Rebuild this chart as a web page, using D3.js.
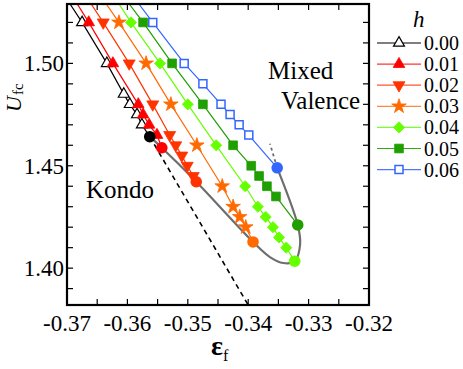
<!DOCTYPE html>
<html>
<head>
<meta charset="utf-8">
<script src="https://cdn.jsdelivr.net/npm/d3@7"></script>
<style>
  body { margin: 0; background: #fff; }
  svg { display: block; }
  text { font-family: "Liberation Serif", "Times New Roman", "DejaVu Serif", serif; }
</style>
</head>
<body>
<svg id="chart" width="463" height="369"></svg>
<script>
// h values of each series, in legend order
var hLabels = ["0.00", "0.01", "0.02", "0.03", "0.04", "0.05", "0.06"];

// marker points [eps_f, U_fc] for each series
var h000 = [[-0.3675, 1.52], [-0.3634, 1.50], [-0.3606, 1.485], [-0.3596, 1.48], [-0.3584, 1.475], [-0.3576, 1.47]];
var h001 = [[-0.3664, 1.52], [-0.3624, 1.50], [-0.3582, 1.48], [-0.3574, 1.475], [-0.3564, 1.47], [-0.3551, 1.465]];
var h002 = [[-0.3640, 1.52], [-0.3597, 1.50], [-0.3558, 1.48], [-0.3530, 1.465], [-0.3520, 1.46], [-0.3510, 1.455], [-0.3501, 1.45], [-0.3491, 1.445]];
var h003 = [[-0.3614, 1.52], [-0.3569, 1.50], [-0.3528, 1.48], [-0.3485, 1.46], [-0.3443, 1.44], [-0.3425, 1.43], [-0.3414, 1.425], [-0.3404, 1.42]];
var h004 = [[-0.3594, 1.52], [-0.3546, 1.50], [-0.3500, 1.48], [-0.3453, 1.46], [-0.3405, 1.44], [-0.3384, 1.43], [-0.3371, 1.425], [-0.3359, 1.42], [-0.3349, 1.415], [-0.3337, 1.41]];
var h005 = [[-0.3574, 1.52], [-0.3526, 1.50], [-0.3475, 1.48], [-0.3425, 1.46], [-0.3395, 1.45], [-0.3382, 1.445], [-0.3369, 1.44], [-0.3354, 1.435]];
var h006 = [[-0.3558, 1.52], [-0.3506, 1.50], [-0.3475, 1.49], [-0.3445, 1.48], [-0.3430, 1.475], [-0.3415, 1.47], [-0.3399, 1.465]];

// end point (critical point) of each series
var endPoints = [[-0.3563, 1.4642], [-0.3543, 1.4588], [-0.3486, 1.4422], [-0.3392, 1.4128], [-0.3323, 1.4034], [-0.3318, 1.4211], [-0.3352, 1.449]];

// eps_f where each line leaves the top of the frame
var lineTopEps = [-0.3695, -0.3683, -0.3660, -0.3635, -0.3614, -0.3597, -0.3581];

// gray boundary curve through the end points
var boundary = [[-0.3563, 1.4642], [-0.3543, 1.4588], [-0.3486, 1.4422], [-0.3392, 1.4128], [-0.3364, 1.4054], [-0.3342, 1.4025], [-0.3323, 1.4034], [-0.3314, 1.4118], [-0.3318, 1.4211], [-0.3352, 1.449]];
var boundaryDash = [[-0.3352, 1.449], [-0.3364, 1.4608]];
// black dashed line continuing h=0
var kondoDash = [[-0.3563, 1.4642], [-0.3400, 1.382]];

var xTicks = [-0.37, -0.36, -0.35, -0.34, -0.33, -0.32];
var yTicks = [1.40, 1.45, 1.50];

var series = [h000, h001, h002, h003, h004, h005, h006];
var colors = ["#000000", "#ff0000", "#ff3300", "#ff6a00", "#66ff00", "#1f9f00", "#3366ff"];
var legendLine = ["#000000", "#ff3333", "#ff5533", "#ff8844", "#77ff33", "#33aa11", "#5577ff"];
var kinds = ["triOpen", "tri", "triDown", "star", "diamond", "square", "squareOpen"];

var serif = "'Liberation Serif', 'Times New Roman', 'DejaVu Serif', serif";
var svg = d3.select("#chart").attr("font-family", serif);
var pLeft = 67, pRight = 369, pTop = 4, pBottom = 305;

var x = d3.scaleLinear().domain([-0.37, -0.32]).range([pLeft, pRight]);
var y = d3.scaleLinear().domain([1.382, 1.529]).range([pBottom, pTop]);

svg.append("clipPath").attr("id", "plotclip")
  .append("rect").attr("x", pLeft).attr("y", pTop).attr("width", pRight - pLeft).attr("height", pBottom - pTop);

var plot = svg.append("g").attr("clip-path", "url(#plotclip)");
var line = d3.line().x(function (d) { return x(d[0]); }).y(function (d) { return y(d[1]); });

// colored lines from the top of the frame to the end point
for (var i = 0; i < series.length; i++) {
  var pts = [[lineTopEps[i], y.domain()[1]]].concat(series[i]).concat([endPoints[i]]);
  plot.append("path")
    .attr("d", line(pts))
    .attr("fill", "none")
    .attr("stroke", colors[i])
    .attr("stroke-width", 1.2);
}

// boundary and dashed lines
var smooth = d3.line().x(function (d) { return x(d[0]); }).y(function (d) { return y(d[1]); }).curve(d3.curveCatmullRom.alpha(0.5));
plot.append("path")
  .attr("d", smooth(boundary))
  .attr("fill", "none")
  .attr("stroke", "#6e6e6e")
  .attr("stroke-width", 2.2);
plot.append("path")
  .attr("d", line(boundaryDash))
  .attr("fill", "none")
  .attr("stroke", "#6e6e6e")
  .attr("stroke-width", 1.8)
  .attr("stroke-dasharray", "3,3");
plot.append("path")
  .attr("d", line(kondoDash))
  .attr("fill", "none")
  .attr("stroke", "#000")
  .attr("stroke-width", 1.6)
  .attr("stroke-dasharray", "5,4");

// function to draw one marker at px,py
function marker(g, kind, color, px, py) {
  var sym, size, rot = 0, fill = color, stroke = color, sw = 0.8;
  if (kind === "triOpen") { sym = d3.symbolTriangle; size = 52; fill = "#fff"; sw = 1.2; }
  else if (kind === "tri") { sym = d3.symbolTriangle; size = 58; }
  else if (kind === "triDown") { sym = d3.symbolTriangle; size = 62; rot = 180; }
  else if (kind === "star") { sym = d3.symbolStar; size = 66; }
  else if (kind === "diamond") { sym = d3.symbolSquare; size = 62; rot = 45; }
  else if (kind === "square") { sym = d3.symbolSquare; size = 76; }
  else if (kind === "squareOpen") { sym = d3.symbolSquare; size = 64; fill = "#fff"; sw = 1.5; }
  g.append("path")
    .attr("d", d3.symbol().type(sym).size(size)())
    .attr("transform", "translate(" + px + "," + py + ") rotate(" + rot + ")")
    .attr("fill", fill)
    .attr("stroke", stroke)
    .attr("stroke-width", sw);
}

for (var i = 0; i < series.length; i++) {
  series[i].forEach(function (d) { marker(svg, kinds[i], colors[i], x(d[0]), y(d[1])); });
}
// end point circles
svg.selectAll("circle.end").data(endPoints).enter().append("circle")
  .attr("class", "end")
  .attr("cx", function (d) { return x(d[0]); })
  .attr("cy", function (d) { return y(d[1]); })
  .attr("r", 5.8)
  .attr("fill", function (d, i) { return colors[i]; });

// frame with inward ticks on all sides
var frame = svg.append("g");
function xticks(values, len) {
  values.forEach(function (v) {
    var px = x(v);
    if (px < pLeft + 1 || px > pRight - 1) return;
    frame.append("line").attr("x1", px).attr("x2", px).attr("y1", pBottom).attr("y2", pBottom - len).attr("stroke", "#000").attr("stroke-width", 1.2);
    frame.append("line").attr("x1", px).attr("x2", px).attr("y1", pTop).attr("y2", pTop + len).attr("stroke", "#000").attr("stroke-width", 1.2);
  });
}
xticks(d3.range(-0.365, -0.32, 0.005), 6);
function yticks(values, len) {
  values.forEach(function (v) {
    var py = y(v);
    frame.append("line").attr("x1", pLeft).attr("x2", pLeft + len).attr("y1", py).attr("y2", py).attr("stroke", "#000").attr("stroke-width", 1.2);
    frame.append("line").attr("x1", pRight).attr("x2", pRight - len).attr("y1", py).attr("y2", py).attr("stroke", "#000").attr("stroke-width", 1.2);
  });
}
yticks(d3.range(1.39, 1.525, 0.01), 6);
frame.append("rect")
  .attr("x", pLeft).attr("y", pTop).attr("width", pRight - pLeft).attr("height", pBottom - pTop)
  .attr("fill", "none").attr("stroke", "#000").attr("stroke-width", 2.2);

// tick labels
svg.selectAll("text.xt").data(xTicks).enter().append("text")
  .attr("class", "xt")
  .attr("x", function (d) { return x(d); })
  .attr("y", 331)
  .attr("text-anchor", "middle")
  .attr("font-size", 23)
  .text(function (d) { return d.toFixed(2); });
svg.selectAll("text.yt").data(yTicks).enter().append("text")
  .attr("class", "yt")
  .attr("x", 64)
  .attr("y", function (d) { return y(d) + 8; })
  .attr("text-anchor", "end")
  .attr("font-size", 23)
  .text(function (d) { return d.toFixed(2); });

// axis titles
var xl = svg.append("text").attr("x", 211).attr("y", 355).attr("font-size", 28);
xl.append("tspan").attr("font-weight", "bold").text("ε");
xl.append("tspan").attr("font-size", 16).attr("dy", 6).text("f");

var yl = svg.append("text").attr("transform", "translate(21,112) rotate(-90)").attr("font-size", 22);
yl.append("tspan").attr("font-style", "italic").text("U");
yl.append("tspan").attr("font-size", 15).attr("dy", 2).attr("dx", 1).text("fc");

// region labels
svg.append("text").attr("x", 86).attr("y", 198).attr("font-size", 25).text("Kondo");
svg.append("text").attr("x", 268).attr("y", 79).attr("font-size", 25).text("Mixed");
svg.append("text").attr("x", 281).attr("y", 109).attr("font-size", 25).text("Valence");

// legend
svg.append("text").attr("x", 413).attr("y", 27).attr("font-size", 23).attr("font-style", "italic").text("h");
var legend = svg.append("g");
hLabels.forEach(function (lab, i) {
  var ly = 43 + i * 21.1;
  legend.append("line").attr("x1", 377).attr("x2", 421).attr("y1", ly).attr("y2", ly)
    .attr("stroke", legendLine[i]).attr("stroke-width", 1.2);
  marker(legend, kinds[i], colors[i], 399, ly);
  legend.append("text").attr("x", 424).attr("y", ly + 7).attr("font-size", 20).text(lab);
});
</script>
</body>
</html>
